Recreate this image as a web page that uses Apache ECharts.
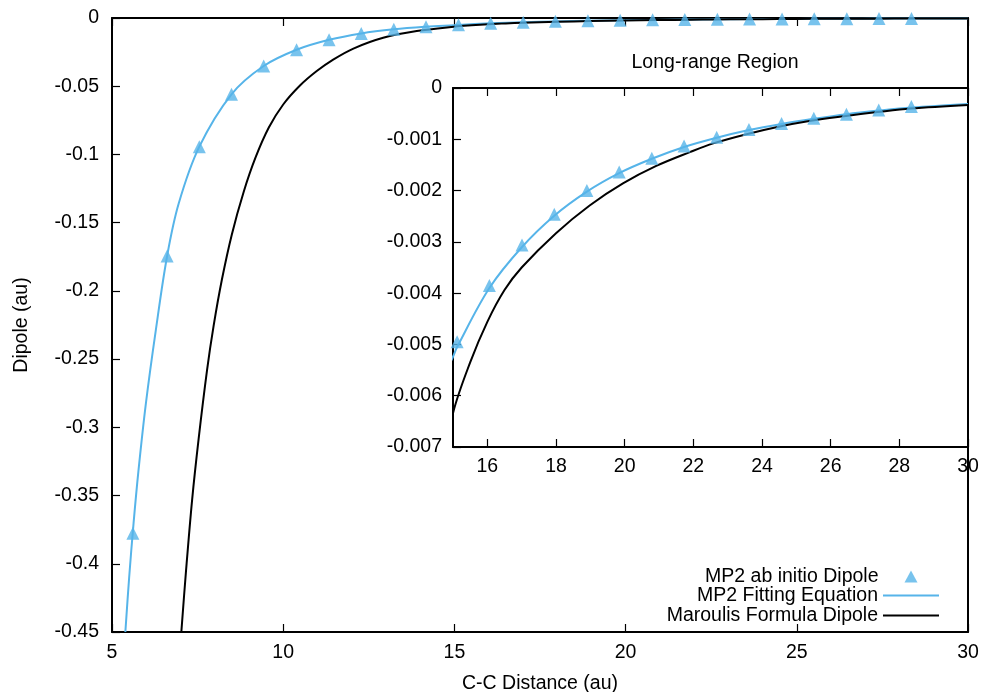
<!DOCTYPE html>
<html>
<head>
<meta charset="utf-8">
<script src="https://cdn.jsdelivr.net/npm/echarts@6/dist/echarts.min.js"></script>
<style>html,body{margin:0;padding:0;background:#fff}#c{width:984px;height:692px}</style>
</head>
<body>
<div id="c"></div>
<script>
// MP2 ab initio dipole points (C-C distance in au, dipole in au)
const abX = [5.61, 6.61, 7.55, 8.49, 9.43, 10.39, 11.34, 12.28, 13.23, 14.17, 15.12, 16.06, 17.01, 17.95, 18.90, 19.84, 20.79, 21.73, 22.68, 23.62, 24.57, 25.51, 26.46, 27.40, 28.35];
const abY = [-0.3777, -0.1744, -0.0943, -0.0559, -0.0352, -0.0233, -0.0160, -0.0113, -0.0083, -0.0064, -0.00495, -0.00385, -0.00306, -0.00246, -0.00200, -0.00164, -0.00137, -0.00113, -0.00096, -0.00081, -0.00069, -0.00059, -0.00051, -0.00043, -0.00036];

// MP2 fitting equation curve
const fitX = [5.39, 5.50, 5.63, 5.77, 5.99, 6.28, 6.61, 6.95, 7.55, 8.49, 9.43, 10.39, 11.34, 12.28, 13.23, 14.17, 15.0, 15.12, 16.06, 17.01, 17.95, 18.90, 19.84, 20.79, 21.73, 22.68, 23.62, 24.57, 25.51, 26.46, 27.40, 28.35, 30.0];
const fitY = [-0.45, -0.4104, -0.3702, -0.3324, -0.2824, -0.2287, -0.1744, -0.1358, -0.0943, -0.0559, -0.0352, -0.0233, -0.0160, -0.0113, -0.0083, -0.0064, -0.00524, -0.00505, -0.00390, -0.00310, -0.00249, -0.00202, -0.00166, -0.00138, -0.00115, -0.00097, -0.00082, -0.00070, -0.00060, -0.00051, -0.00044, -0.00038, -0.00031];

// Maroulis formula dipole curve
const marX = [7.025, 7.16, 7.34, 7.53, 7.775, 7.97, 8.21, 8.50, 8.845, 9.19, 9.58, 10.0, 10.49, 10.98, 11.46, 12.05, 12.92, 13.9, 15.0, 15.5, 16.0, 16.5, 17.0, 18.0, 18.98, 19.95, 20.92, 21.9, 22.58, 23.55, 24.45, 25.42, 26.39, 27.36, 28.33, 30.0];
const marY = [-0.45, -0.4058, -0.3531, -0.3084, -0.2582, -0.2253, -0.1917, -0.1586, -0.1275, -0.1024, -0.0803, -0.0634, -0.0495, -0.0389, -0.0305, -0.0224, -0.0145, -0.0096, -0.00634, -0.00535, -0.00456, -0.00394, -0.00350, -0.00283, -0.00229, -0.00186, -0.00152, -0.00125, -0.00108, -0.00090, -0.00076, -0.00064, -0.00055, -0.00047, -0.00040, -0.00033];

const insetXTicks = [16, 18, 20, 22, 24, 26, 28, 30];
const seriesNames = ['MP2 ab initio Dipole', 'MP2 Fitting Equation', 'Maroulis Formula Dipole'];
const insetTitle = 'Long-range Region';

const zip = (xs, ys) => xs.map((x, i) => [x, ys[i]]);
const FONT = 'Liberation Sans, Arial, sans-serif';
const FS = 19.5;
const BLUE = '#56b4e9';
const txt = {color: '#000', fontFamily: FONT, fontSize: FS};

const chart = echarts.init(document.getElementById('c'), null, {renderer: 'canvas'});

const axisLine = {show: true, onZero: false, lineStyle: {color: '#000', width: 2}};
const tickIn = {show: true, inside: true, length: 8, lineStyle: {color: '#000', width: 1.2}};
const SM = 0.35;

chart.setOption({
  backgroundColor: '#fff',
  animation: false,
  title: {
    text: insetTitle, left: 710, top: 48, textAlign: 'center',
    textStyle: {color: '#000', fontFamily: FONT, fontSize: FS, fontWeight: 'normal'}
  },
  grid: [
    {left: 112, top: 18, right: 16, bottom: 60, z: 0, containLabel: false, outerBoundsMode: 'none'},
    {left: 453, top: 88, right: 16, bottom: 245, show: true, backgroundColor: '#fff', borderWidth: 0, z: 3,
     containLabel: false, outerBoundsMode: 'none'}
  ],
  legend: [
    {
      orient: 'vertical', right: 61.5, top: 561.5, align: 'right',
      itemWidth: 13, itemHeight: 12, itemGap: 0, symbolKeepAspect: true,
      textStyle: Object.assign({}, txt, {lineHeight: 19, padding: [0, 21, 0, 0]}),
      data: [{name: seriesNames[0], icon: 'triangle'}]
    },
    {
      orient: 'vertical', right: 40, top: 580.5, align: 'right',
      itemWidth: 56, itemHeight: 2, itemGap: 0,
      textStyle: Object.assign({}, txt, {lineHeight: 19}),
      data: [{name: seriesNames[1], icon: 'rect'}, {name: seriesNames[2], icon: 'rect'}]
    }
  ],
  xAxis: [
    {gridIndex: 0, type: 'value', min: 5, max: 30, interval: 5, position: 'bottom',
     name: 'C-C Distance (au)', nameLocation: 'middle', nameGap: 42, nameTextStyle: txt,
     axisLine, axisTick: tickIn, splitLine: {show: false},
     axisLabel: Object.assign({margin: 11}, txt)},
    {gridIndex: 0, type: 'value', min: 5, max: 30, interval: 5, position: 'top',
     axisLine, axisTick: tickIn, splitLine: {show: false}, axisLabel: {show: false}},
    {gridIndex: 1, type: 'value', min: 15, max: 30, position: 'bottom', z: 4,
     axisLine, axisTick: Object.assign({customValues: insetXTicks}, tickIn), splitLine: {show: false},
     axisLabel: Object.assign({margin: 10, customValues: insetXTicks}, txt)},
    {gridIndex: 1, type: 'value', min: 15, max: 30, position: 'top', z: 4,
     axisLine, axisTick: Object.assign({customValues: insetXTicks}, tickIn), splitLine: {show: false},
     axisLabel: {show: false}}
  ],
  yAxis: [
    {gridIndex: 0, type: 'value', min: -0.45, max: 0, interval: 0.05, position: 'left',
     name: 'Dipole (au)', nameLocation: 'middle', nameGap: 80, nameTextStyle: txt,
     axisLine, axisTick: tickIn, splitLine: {show: false},
     axisLabel: Object.assign({margin: 13}, txt)},
    {gridIndex: 0, type: 'value', min: -0.45, max: 0, position: 'right',
     axisLine, axisTick: {show: false}, splitLine: {show: false}, axisLabel: {show: false}},
    {gridIndex: 1, type: 'value', min: -0.007, max: 0, interval: 0.001, position: 'left', z: 4,
     axisLine, axisTick: tickIn, splitLine: {show: false},
     axisLabel: Object.assign({margin: 11}, txt)},
    {gridIndex: 1, type: 'value', min: -0.007, max: 0, position: 'right', z: 4,
     axisLine, axisTick: {show: false}, splitLine: {show: false}, axisLabel: {show: false}}
  ],
  series: [
    {name: seriesNames[1], type: 'line', xAxisIndex: 0, yAxisIndex: 0, data: zip(fitX, fitY),
     symbol: 'none', showSymbol: false, smooth: SM, clip: true, z: 1,
     lineStyle: {color: BLUE, width: 2}, itemStyle: {color: BLUE}},
    {name: seriesNames[2], type: 'line', xAxisIndex: 0, yAxisIndex: 0, data: zip(marX, marY),
     symbol: 'none', showSymbol: false, smooth: SM, clip: true, z: 1,
     lineStyle: {color: '#000', width: 2}, itemStyle: {color: '#000'}},
    {name: seriesNames[0], type: 'scatter', xAxisIndex: 0, yAxisIndex: 0, data: zip(abX, abY),
     symbol: 'triangle', symbolSize: 13, clip: false, z: 2, itemStyle: {color: BLUE}},
    {name: seriesNames[1], type: 'line', xAxisIndex: 2, yAxisIndex: 2, data: zip(fitX, fitY),
     symbol: 'none', showSymbol: false, smooth: SM, clip: true, z: 5,
     lineStyle: {color: BLUE, width: 2}, itemStyle: {color: BLUE}},
    {name: seriesNames[2], type: 'line', xAxisIndex: 2, yAxisIndex: 2, data: zip(marX, marY),
     symbol: 'none', showSymbol: false, smooth: SM, clip: true, z: 5,
     lineStyle: {color: '#000', width: 2}, itemStyle: {color: '#000'}},
    {name: seriesNames[0], type: 'scatter', xAxisIndex: 2, yAxisIndex: 2,
     data: zip(abX, abY).filter(p => p[0] >= 15 && p[1] >= -0.007),
     symbol: 'triangle', symbolSize: 13, clip: false, z: 6, itemStyle: {color: BLUE}}
  ]
});
</script>
</body>
</html>
